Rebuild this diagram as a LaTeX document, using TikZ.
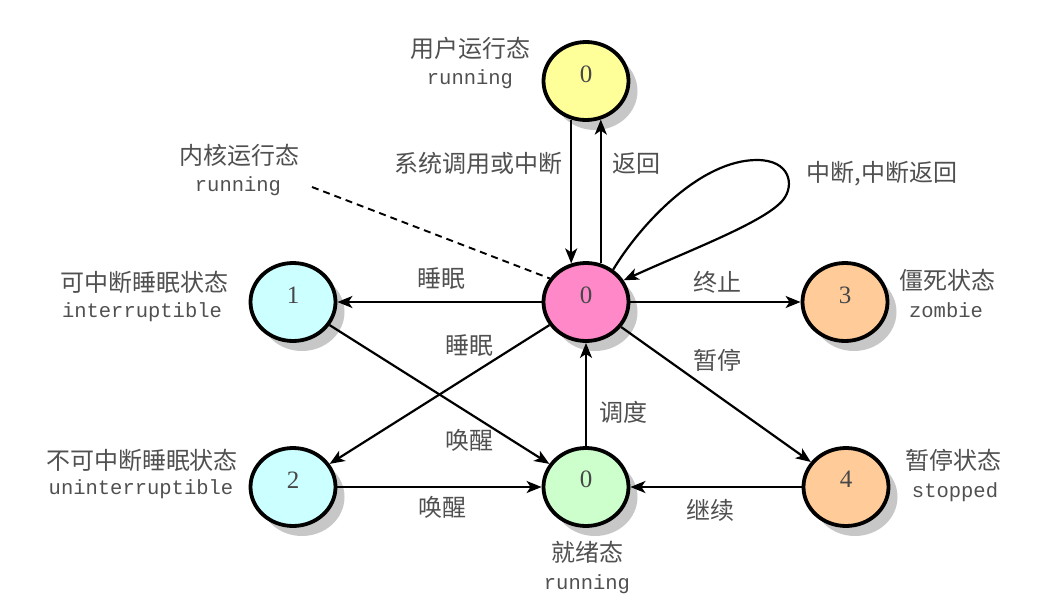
\documentclass[tikz,border=0pt]{standalone}
\usepackage{fontspec}
\newfontfamily\cjk{Noto Sans CJK SC}
\newfontfamily\monof{Liberation Mono}
\newfontfamily\numf{Liberation Serif}
\usetikzlibrary{arrows.meta,shapes.geometric,shadows}
\definecolor{cyel}{HTML}{FFFF99}
\definecolor{cpink}{HTML}{FF88C8}
\definecolor{ccyan}{HTML}{CCFFFF}
\definecolor{corange}{HTML}{FFCC99}
\definecolor{cgreen}{HTML}{CCFFCC}
\definecolor{ctext}{HTML}{505050}
\begin{document}
\begin{tikzpicture}[x=1pt,y=-1pt,
  state/.style={ellipse, draw=black, line width=3.8pt, minimum width=85pt, minimum height=78pt, inner sep=0pt,
    drop shadow={shadow xshift=9pt, shadow yshift=-10pt, fill=black!22, opacity=1}},
  num/.style={font=\numf\fontsize{25}{25}\selectfont, text=black!72, inner sep=0pt},
  cjkl/.style={font=\cjk\fontsize{24}{24}\selectfont, text=ctext, inner sep=0pt, anchor=base},
  monol/.style={font=\monof\fontsize{20.5}{20.5}\selectfont, text=ctext, inner sep=0pt, anchor=base},
  arr/.style={line width=2.2pt, -{Stealth[length=15pt,width=12pt,inset=4pt]}},
  dashline/.style={line width=1.9pt, dash pattern=on 7pt off 5pt}
]
\useasboundingbox (0,0) rectangle (1045,616);
% states
\node[state, fill=cyel]    (U)  at (586,81)  {};
\node[state, fill=cpink]   (K)  at (586,302) {};
\node[state, fill=ccyan]   (S1) at (293,302) {};
\node[state, fill=ccyan]   (S2) at (293,487) {};
\node[state, fill=cgreen]  (G)  at (586,487) {};
\node[state, fill=corange] (Z)  at (845,302) {};
\node[state, fill=corange] (P)  at (846,487) {};
\node[num] (nU)  at ([yshift=7pt]U.center)  {0};
\node[num] (nK)  at ([yshift=7pt]K.center)  {0};
\node[num] (nS1) at ([yshift=7pt]S1.center) {1};
\node[num] (nS2) at ([yshift=7pt]S2.center) {2};
\node[num] (nG)  at ([yshift=8pt]G.center)  {0};
\node[num] (nZ)  at ([yshift=7pt]Z.center)  {3};
\node[num] (nP)  at ([yshift=8pt]P.center)  {4};
% connectors
\draw[arr] (U.-111) -- (K.111);
\draw[arr] (K.69) -- (U.-69);
\coordinate (dashend) at (312,187);
\draw[dashline] (dashend) -- (K.147);
\draw[arr] (K.50) .. controls (640,225) and (700,160) .. (757,160)
  .. controls (790,160) and (795,185) .. (783,200)
  .. controls (765,222) and (690,250) .. (K.30);
\draw[arr] (K) -- (S1);
\draw[arr] (K) -- (Z);
\draw[arr] (K) -- (S2);
\draw[arr] (S1) -- (G);
\draw[arr] (S2) -- (G);
\draw[arr] (G) -- (K);
\draw[arr] (K) -- (P);
\draw[arr] (P) -- (G);
% labels
\node[cjkl]  (tU1) at (470,57)    {用户运行态};
\node[monol] (tU2) at (470,84.5)  {running};
\node[cjkl]  (tK1) at (239,164)   {内核运行态};
\node[monol] (tK2) at (238,191.5) {running};
\node[cjkl]  (e1)  at (478,172)   {系统调用或中断};
\node[cjkl]  (e2)  at (636,172)   {返回};
\node[cjkl]  (e3)  at (882,181)   {中断,中断返回};
\node[cjkl]  (e4)  at (441,287)   {睡眠};
\node[cjkl]  (e5)  at (717,291)   {终止};
\node[cjkl]  (tS11) at (144,291)  {可中断睡眠状态};
\node[monol] (tS12) at (142,317.5) {interruptible};
\node[cjkl]  (tZ1) at (947,289)   {僵死状态};
\node[monol] (tZ2) at (946,317.5) {zombie};
\node[cjkl]  (e6)  at (469,354)   {睡眠};
\node[cjkl]  (e7)  at (717,369)   {暂停};
\node[cjkl]  (e8)  at (623,421)   {调度};
\node[cjkl]  (e9)  at (469,449)   {唤醒};
\node[cjkl]  (tS21) at (142,469)  {不可中断睡眠状态};
\node[monol] (tS22) at (141,494.5) {uninterruptible};
\node[cjkl]  (tP1) at (953,469)   {暂停状态};
\node[monol] (tP2) at (955,497.5) {stopped};
\node[cjkl]  (e10) at (442,516)   {唤醒};
\node[cjkl]  (e11) at (710,519)   {继续};
\node[cjkl]  (tG1) at (587,561)   {就绪态};
\node[monol] (tG2) at (587,589.5) {running};
\end{tikzpicture}
\end{document}
